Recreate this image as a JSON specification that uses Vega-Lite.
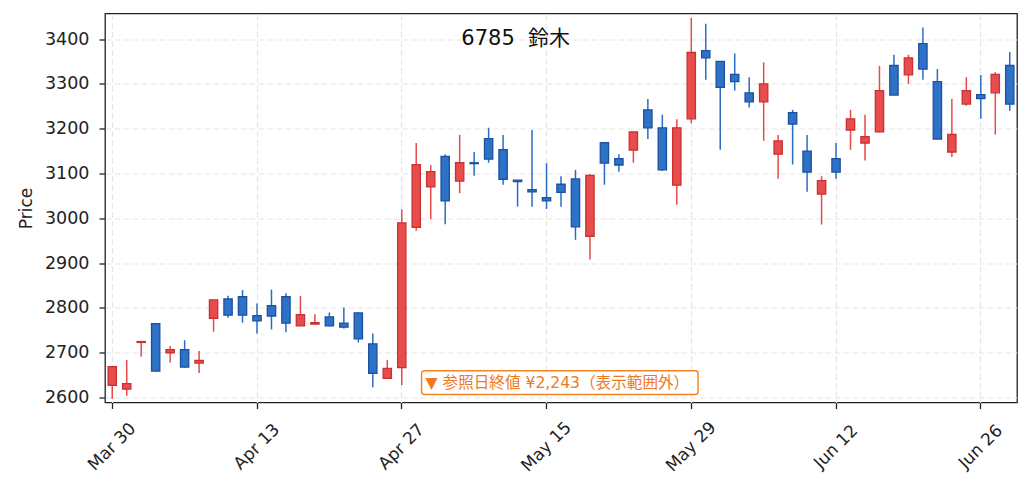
{
  "$schema": "https://vega.github.io/schema/vega-lite/v6.json",
  "description": "6785 candlestick chart, Mar 30 - Jun 30",
  "width": 912,
  "height": 389,
  "autosize": {"type": "none"},
  "padding": {"left": 105, "top": 13.5, "right": 14, "bottom": 89.5},
  "background": "white",
  "config": {
    "font": "DejaVu Sans, Noto Sans CJK JP",
    "view": {"stroke": "#222222", "strokeWidth": 1.3},
    "axis": {
      "domain": false,
      "labelFont": "DejaVu Sans, Noto Sans CJK JP",
      "labelFontSize": 17,
      "labelColor": "#222222",
      "titleFont": "DejaVu Sans, Noto Sans CJK JP",
      "titleFontSize": 17,
      "titleFontWeight": "normal",
      "titleColor": "#222222",
      "tickColor": "#222222",
      "tickWidth": 1.3,
      "tickSize": 6,
      "grid": true,
      "gridColor": "#e6e6e6",
      "gridDash": [6, 3],
      "gridWidth": 1.2
    }
  },
  "data": {
    "values": [
      {"d": "Mar 30", "o": 2627, "h": 2669, "l": 2597, "c": 2669},
      {"d": "Mar 31", "o": 2619, "h": 2684, "l": 2604, "c": 2631},
      {"d": "Apr 1", "o": 2723, "h": 2725, "l": 2691, "c": 2725},
      {"d": "Apr 2", "o": 2765, "h": 2766, "l": 2658, "c": 2659},
      {"d": "Apr 3", "o": 2700, "h": 2715, "l": 2678, "c": 2707},
      {"d": "Apr 6", "o": 2707, "h": 2728, "l": 2667, "c": 2668},
      {"d": "Apr 7", "o": 2677, "h": 2704, "l": 2655, "c": 2683},
      {"d": "Apr 8", "o": 2777, "h": 2818, "l": 2747, "c": 2818},
      {"d": "Apr 9", "o": 2820, "h": 2827, "l": 2778, "c": 2784},
      {"d": "Apr 10", "o": 2825, "h": 2840, "l": 2767, "c": 2784},
      {"d": "Apr 13", "o": 2783, "h": 2810, "l": 2743, "c": 2771},
      {"d": "Apr 14", "o": 2805, "h": 2841, "l": 2752, "c": 2782},
      {"d": "Apr 15", "o": 2825, "h": 2833, "l": 2746, "c": 2766},
      {"d": "Apr 16", "o": 2760, "h": 2827, "l": 2760, "c": 2785},
      {"d": "Apr 17", "o": 2764, "h": 2786, "l": 2762, "c": 2767},
      {"d": "Apr 20", "o": 2780, "h": 2790, "l": 2759, "c": 2760},
      {"d": "Apr 21", "o": 2766, "h": 2801, "l": 2754, "c": 2757},
      {"d": "Apr 22", "o": 2789, "h": 2790, "l": 2723, "c": 2731},
      {"d": "Apr 23", "o": 2720, "h": 2743, "l": 2623, "c": 2654},
      {"d": "Apr 24", "o": 2643, "h": 2684, "l": 2643, "c": 2665},
      {"d": "Apr 27", "o": 2667, "h": 3020, "l": 2628, "c": 2990},
      {"d": "Apr 28", "o": 2980, "h": 3168, "l": 2972, "c": 3120},
      {"d": "Apr 30", "o": 3070, "h": 3119, "l": 2998, "c": 3104},
      {"d": "May 1", "o": 3138, "h": 3143, "l": 2987, "c": 3039},
      {"d": "May 7", "o": 3083, "h": 3186, "l": 3056, "c": 3124},
      {"d": "May 8", "o": 3124, "h": 3148, "l": 3095, "c": 3122},
      {"d": "May 11", "o": 3178, "h": 3202, "l": 3124, "c": 3132},
      {"d": "May 12", "o": 3153, "h": 3186, "l": 3075, "c": 3087},
      {"d": "May 13", "o": 3085, "h": 3085, "l": 3026, "c": 3082},
      {"d": "May 14", "o": 3064, "h": 3197, "l": 3026, "c": 3059},
      {"d": "May 15", "o": 3046, "h": 3123, "l": 3021, "c": 3039},
      {"d": "May 18", "o": 3076, "h": 3094, "l": 3026, "c": 3058},
      {"d": "May 19", "o": 3088, "h": 3108, "l": 2952, "c": 2981},
      {"d": "May 20", "o": 2960, "h": 3099, "l": 2908, "c": 3096},
      {"d": "May 21", "o": 3169, "h": 3169, "l": 3075, "c": 3123},
      {"d": "May 22", "o": 3133, "h": 3143, "l": 3104, "c": 3119},
      {"d": "May 25", "o": 3152, "h": 3193, "l": 3124, "c": 3193},
      {"d": "May 26", "o": 3242, "h": 3266, "l": 3177, "c": 3202},
      {"d": "May 27", "o": 3202, "h": 3231, "l": 3106, "c": 3108},
      {"d": "May 28", "o": 3074, "h": 3221, "l": 3030, "c": 3202},
      {"d": "May 29", "o": 3222, "h": 3447, "l": 3212, "c": 3370},
      {"d": "Jun 1", "o": 3374, "h": 3434, "l": 3309, "c": 3358},
      {"d": "Jun 2", "o": 3350, "h": 3350, "l": 3153, "c": 3292},
      {"d": "Jun 3", "o": 3321, "h": 3368, "l": 3285, "c": 3305},
      {"d": "Jun 4", "o": 3280, "h": 3315, "l": 3247, "c": 3260},
      {"d": "Jun 5", "o": 3260, "h": 3348, "l": 3173, "c": 3300},
      {"d": "Jun 8", "o": 3143, "h": 3186, "l": 3088, "c": 3173},
      {"d": "Jun 9", "o": 3236, "h": 3242, "l": 3120, "c": 3210},
      {"d": "Jun 10", "o": 3150, "h": 3186, "l": 3059, "c": 3103},
      {"d": "Jun 11", "o": 3054, "h": 3094, "l": 2986, "c": 3084},
      {"d": "Jun 12", "o": 3133, "h": 3168, "l": 3088, "c": 3103},
      {"d": "Jun 15", "o": 3197, "h": 3242, "l": 3153, "c": 3222},
      {"d": "Jun 16", "o": 3168, "h": 3231, "l": 3129, "c": 3182},
      {"d": "Jun 17", "o": 3193, "h": 3340, "l": 3192, "c": 3285},
      {"d": "Jun 18", "o": 3341, "h": 3365, "l": 3275, "c": 3275},
      {"d": "Jun 19", "o": 3320, "h": 3365, "l": 3300, "c": 3358},
      {"d": "Jun 22", "o": 3390, "h": 3426, "l": 3309, "c": 3333},
      {"d": "Jun 23", "o": 3305, "h": 3333, "l": 3177, "c": 3177},
      {"d": "Jun 24", "o": 3148, "h": 3266, "l": 3137, "c": 3187},
      {"d": "Jun 25", "o": 3255, "h": 3315, "l": 3251, "c": 3285},
      {"d": "Jun 26", "o": 3276, "h": 3320, "l": 3222, "c": 3267},
      {"d": "Jun 29", "o": 3280, "h": 3326, "l": 3187, "c": 3321},
      {"d": "Jun 30", "o": 3341, "h": 3371, "l": 3240, "c": 3255}
    ]
  },
  "encoding": {
    "x": {
      "field": "d",
      "type": "ordinal",
      "sort": null,
      "title": null,
      "scale": {"type": "band", "paddingInner": 0, "paddingOuter": 0},
      "axis": {
        "values": ["Mar 30", "Apr 13", "Apr 27", "May 15", "May 29", "Jun 12", "Jun 26"],
        "bandPosition": 0.5,
        "labelAngle": -45,
        "labelAlign": "center",
        "labelBaseline": "middle",
        "labelPadding": 38
      }
    }
  },
  "layer": [
    {
      "mark": {"type": "rule", "strokeWidth": 1.5},
      "encoding": {
        "y": {
          "field": "l",
          "type": "quantitative",
          "title": "Price",
          "scale": {"domain": [2589, 3457], "nice": false, "zero": false},
          "axis": {
            "values": [2600, 2700, 2800, 2900, 3000, 3100, 3200, 3300, 3400],
            "format": "d",
            "labelFontSize": 17.5,
            "labelPadding": 10,
            "titlePadding": 9
          }
        },
        "y2": {"field": "h"},
        "color": {
          "condition": {"test": "datum.c >= datum.o", "value": "#e84a4a"},
          "value": "#2a6cc4"
        }
      }
    },
    {
      "mark": {"type": "bar", "size": 8.3, "strokeWidth": 1.3},
      "encoding": {
        "y": {"field": "o", "type": "quantitative"},
        "y2": {"field": "c"},
        "fill": {
          "condition": {"test": "datum.c >= datum.o", "value": "#e84c4c"},
          "value": "#2e72c8"
        },
        "stroke": {
          "condition": {"test": "datum.c >= datum.o", "value": "#c83232"},
          "value": "#1c50a0"
        }
      }
    },
    {
      "data": {"values": [{"label": "6785\u00a0 鈴木"}]},
      "mark": {
        "type": "text",
        "fontSize": 21,
        "color": "#111111",
        "align": "center",
        "baseline": "middle"
      },
      "encoding": {
        "x": {"datum": "May 13", "bandPosition": 0.37},
        "y": {"datum": 3400},
        "text": {"field": "label"}
      }
    },
    {
      "data": {"values": [{"note": "▼ 参照日終値 ¥2,243（表示範囲外）"}]},
      "mark": {
        "type": "rect",
        "fill": "white",
        "stroke": "#f5821f",
        "strokeWidth": 1.4,
        "cornerRadius": 3
      },
      "encoding": {
        "x": {"datum": "Apr 28", "bandPosition": 0.87},
        "x2": {"datum": "May 29", "bandPosition": 0.97},
        "y": {"datum": 2660},
        "y2": {"datum": 2607}
      }
    },
    {
      "data": {"values": [{"note": "▼ 参照日終値 ¥2,243（表示範囲外）"}]},
      "mark": {
        "type": "text",
        "fontSize": 15.6,
        "color": "#f0781e",
        "align": "center",
        "baseline": "middle"
      },
      "encoding": {
        "x": {"datum": "May 18", "bandPosition": 0.25},
        "y": {"datum": 2633.5},
        "text": {"field": "note"}
      }
    }
  ]
}
